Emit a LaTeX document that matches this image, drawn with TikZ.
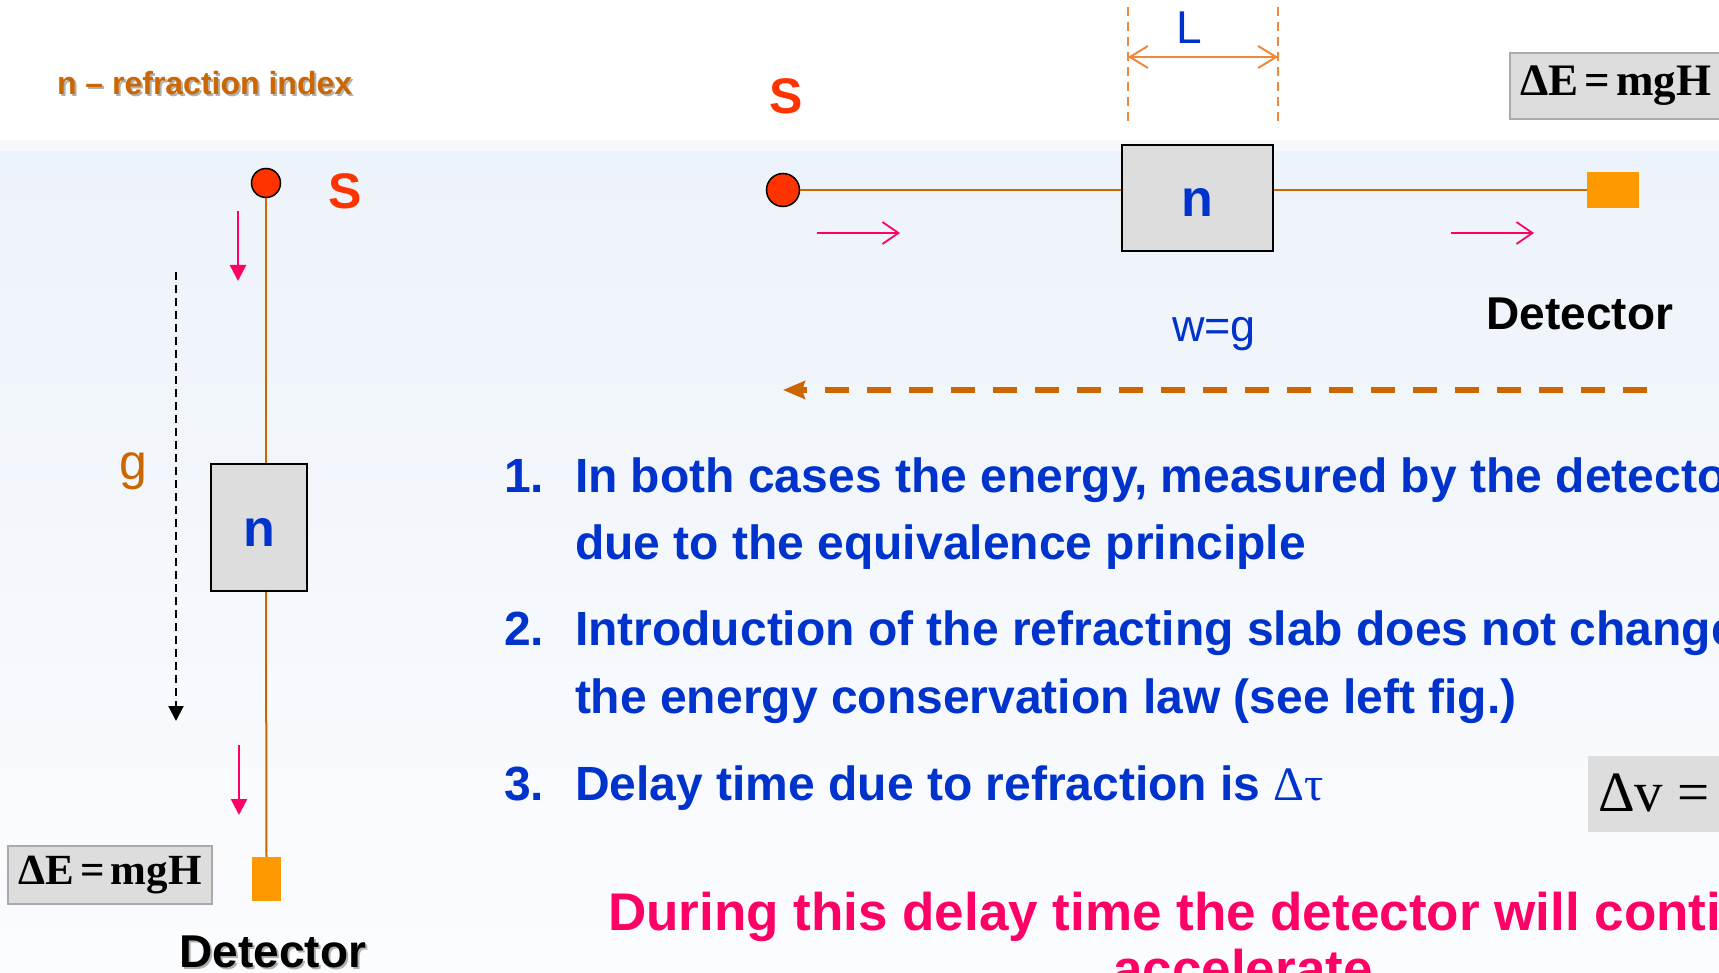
\documentclass[tikz,border=0pt]{standalone}
\usepackage{fontspec}
\setmainfont{Liberation Sans}
\newfontfamily\tms{Liberation Serif}
\usetikzlibrary{arrows.meta}
\definecolor{srcred}{HTML}{FF3300}
\definecolor{wire}{HTML}{CC6600}
\definecolor{dimor}{HTML}{F0883A}
\definecolor{nblue}{HTML}{0033CC}
\definecolor{pinkc}{HTML}{FF0066}
\definecolor{detor}{HTML}{FF9900}
\definecolor{slab}{HTML}{DDDDDD}
\definecolor{bgtop}{HTML}{EDF3FA}
\definecolor{bgbot}{HTML}{FBFCFE}
\definecolor{bgband}{HTML}{F6F9FC}
\definecolor{eqframe}{HTML}{AAAAAA}
\definecolor{shad}{HTML}{B0B0B0}
\newcommand{\fsz}[1]{\fontsize{#1}{#1}\selectfont}
\newcommand{\eqtext}{ΔE\kern6pt=\kern6pt mgH}
\begin{document}
\begin{tikzpicture}[x=1pt,y=-1pt,
  txt/.style={inner sep=0pt, outer sep=0pt},
  dotn/.style={circle, draw=black, line width=1.5pt, fill=srcred, inner sep=0pt},
  slabbox/.style={rectangle, draw=black, line width=2pt, fill=slab, inner sep=0pt},
  slabtxt/.style={txt, anchor=base, text=nblue, font=\bfseries\fsz{52}},
  detbox/.style={rectangle, fill=detor, inner sep=0pt},
  wireline/.style={draw=wire, line width=2pt},
  pinkdown/.style={draw=pinkc, line width=2.5pt, -{Triangle[length=16pt,width=16pt]}},
  pinkright/.style={draw=pinkc, line width=1.8pt, -{Straight Barb[length=16pt,width=22pt]}},
  eqbox/.style={rectangle, draw=eqframe, line width=2pt, fill=slab, inner sep=0pt, font=\tms\bfseries},
  itemtxt/.style={txt, anchor=base west, text=nblue, font=\bfseries\fsz{48}},
  dimline/.style={draw=dimor, line width=1.5pt, dash pattern=on 9pt off 6pt},
]
\useasboundingbox (0,0) rectangle (1719,973);
\clip (0,0) rectangle (1719,973);
% background
\fill[white] (0,0) rectangle (1719,973);
\fill[bgband] (0,140) rectangle (1719,152);
\fill[top color=bgtop, bottom color=bgbot] (0,152) rectangle (1719,973);

% ---------- left figure ----------
\node[txt, anchor=base west, text=shad, font=\bfseries\fsz{32}] (rish) at (59,97) {n – refraction index};
\node[txt, anchor=base west, text=wire, font=\bfseries\fsz{32}] (ri) at (57,95) {n – refraction index};

\node[dotn, minimum size=29pt] (s1) at (266,183) {};
\node[txt, anchor=base, text=srcred, font=\bfseries\fsz{50}] (sl1) at (345,209) {S};
\node[slabbox, minimum width=96pt, minimum height=127pt] (n1) at (259,527.5) {};
\node[slabtxt] (n1t) at (259,546) {n};
\node[detbox, minimum width=29pt, minimum height=44pt] (d1) at (266.5,879) {};
\draw[wireline] (s1.south) -- (s1.south |- n1.north);
\draw[wireline] (s1.south |- n1.south) -- (d1.north);

\coordinate (pa1) at (238,211);
\coordinate (pb1) at (238,281);
\draw[pinkdown] (pa1) -- (pb1);
\coordinate (pa2) at (239,745);
\coordinate (pb2) at (239,815);
\draw[pinkdown] (pa2) -- (pb2);

\coordinate (ga) at (176,272);
\coordinate (gb) at (176,721);
\draw[black, line width=2pt, dash pattern=on 8pt off 5pt, -{Triangle[length=15pt,width=15pt]}] (ga) -- (gb);
\node[txt, anchor=base, text=wire, font=\fsz{50}] (gl) at (133,479) {g};

\node[eqbox, minimum width=204pt, minimum height=58pt, font=\tms\bfseries\fsz{43}] (eq1) at (110,875) {\eqtext};
\node[txt, anchor=base, text=shad, font=\bfseries\fsz{46}] (det1sh) at (275,969) {Detector};
\node[txt, anchor=base, text=black, font=\bfseries\fsz{46}] (det1) at (273,967) {Detector};

% ---------- right figure ----------
\node[txt, anchor=base, text=srcred, font=\bfseries\fsz{50}] (sl2) at (786,114) {S};
\node[dotn, minimum size=33pt] (s2) at (783,190) {};
\node[slabbox, minimum width=151pt, minimum height=106pt] (n2) at (1197.5,198) {};
\node[slabtxt] (n2t) at (1197,217) {n};
\node[detbox, minimum width=52pt, minimum height=36pt] (d2) at (1613,190) {};
\draw[wireline] (s2.east) -- (s2.east -| n2.west);
\draw[wireline] (s2.east -| n2.east) -- (d2.west);

\coordinate (la) at (1128,7);
\coordinate (lb) at (1128,127);
\coordinate (lc) at (1278,7);
\coordinate (ld) at (1278,127);
\draw[dimline] (la) -- (lb);
\draw[dimline] (lc) -- (ld);
\coordinate (le) at (1128,57);
\coordinate (lf) at (1278,57);
\draw[draw=dimor, line width=2pt, {Straight Barb[length=18pt,width=22pt]}-{Straight Barb[length=18pt,width=22pt]}] (le) -- (lf);
\node[txt, anchor=base, text=nblue, font=\fsz{46}] (ll) at (1189,44) {L};

\node[eqbox, minimum width=212pt, minimum height=66pt, font=\tms\bfseries\fsz{45}] (eq2) at (1616,86) {\eqtext};

\coordinate (pr1a) at (817,233);
\coordinate (pr1b) at (900,233);
\draw[pinkright] (pr1a) -- (pr1b);
\coordinate (pr2a) at (1451,233);
\coordinate (pr2b) at (1534,233);
\draw[pinkright] (pr2a) -- (pr2b);

\node[txt, anchor=base, text=nblue, font=\fsz{45}] (wg) at (1214,342) {w=g};
\node[txt, anchor=base, text=black, font=\bfseries\fsz{46}] (det2) at (1580,330) {Detector};

\coordinate (oa) at (1647,390);
\coordinate (ob) at (783,390);
\draw[draw=wire, line width=6pt, dash pattern=on 24pt off 18pt, -{Stealth[length=22pt,width=18pt,inset=3pt]}] (oa) -- (ob);

% ---------- text block ----------
\node[itemtxt] (i1) at (504,492) {1.};
\node[itemtxt] (t1) at (575,492) {In both cases the energy, measured by the detecto};
\node[itemtxt] (t2) at (575,559) {due to the equivalence principle};
\node[itemtxt] (i2) at (504,645) {2.};
\node[itemtxt] (t3) at (575,645) {Introduction of the refracting slab does not change};
\node[itemtxt] (t4) at (575,713) {the energy conservation law (see left fig.)};
\node[itemtxt] (i3) at (504,800) {3.};
\node[itemtxt] (t5) at (575,800) {Delay time due to refraction is {\tms\mdseries Δτ}};

\node[rectangle, fill=slab, inner sep=0pt, minimum width=150pt, minimum height=76pt, anchor=north west] (dv) at (1588,756) {};
\node[txt, anchor=base west, font=\tms\fsz{57}] (dvt) at (1598,811) {Δv =};

\node[txt, anchor=base west, text=pinkc, font=\bfseries\fsz{53}] (r1) at (608,930) {During this delay time the detector will conti};
\node[txt, anchor=base, text=pinkc, font=\bfseries\fsz{53}] (r2) at (1243,987) {accelerate};
\end{tikzpicture}
\end{document}
